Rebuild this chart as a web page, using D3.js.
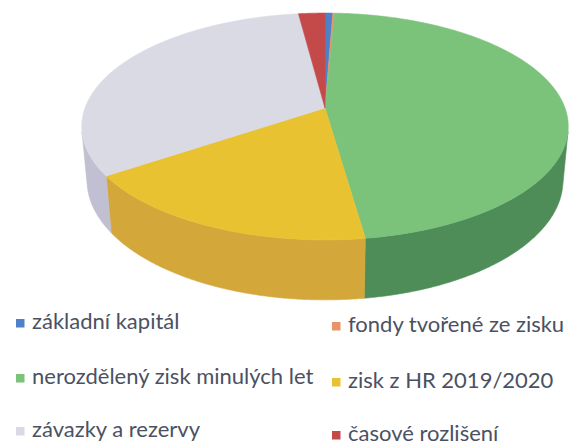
<!DOCTYPE html>
<html>
<head>
<meta charset="utf-8">
<script src="https://cdn.jsdelivr.net/npm/d3@7"></script>
<style>
  html, body { margin: 0; padding: 0; background: #fff; }
  text { font-family: Lato, "Open Sans", sans-serif; }
</style>
</head>
<body>
<div id="chart"></div>
<script>
const width = 570;
const height = 446;

// slices, clockwise from 12 o'clock (share in %)
const labels = [
  "základní kapitál",
  "fondy tvořené ze zisku",
  "nerozdělený zisk minulých let",
  "zisk z HR 2019/2020",
  "závazky a rezervy",
  "časové rozlišení"
];
const values = [0.6, 0.15, 47.0, 17.8, 32.4, 2.05];
const topColors = ["#4f81c9", "#e8946a", "#7bc27b", "#e9c232", "#dadae4", "#c44a4a"];
const sideColors = ["#3e68a8", "#c97a52", "#4f8d58", "#d3a73a", "#c0c0d2", "#a43c3c"];

// 3D projection of the pie
const cx = 325, cy = 108;
const S = 240;            // radius in px
const sinPhi = 0.46;      // tilt
const cosPhi = Math.sqrt(1 - sinPhi * sinPhi);
const D = 5.45;           // camera distance (perspective)
const thick = 0.255;      // pie thickness relative to radius

function proj(theta, z, r = 1) {
  const X = Math.sin(theta) * r;
  const Y = -Math.cos(theta) * r;
  const u = z * cosPhi - Y * sinPhi;
  const v = z * sinPhi + Y * cosPhi;
  const sc = D / (D - v);
  return [cx + S * X * sc, cy - S * u * sc];
}

const svg = d3.select("#chart").append("svg")
  .attr("width", width)
  .attr("height", height);

const pie = d3.pie().sort(null).value(d => d.value);
const arcs = pie(values.map((v, i) => ({ value: v, i: i })));

const line = d3.line();
const step = Math.PI / 360;

function arcPoints(a0, a1, z) {
  const pts = [];
  const n = Math.max(2, Math.ceil((a1 - a0) / step));
  for (let k = 0; k <= n; k++) pts.push(proj(a0 + (a1 - a0) * k / n, z));
  return pts;
}

// visible part of the outer wall
const wallA0 = Math.acos(-1 / (D * cosPhi));
const wallA1 = 2 * Math.PI - wallA0;

const walls = svg.append("g");
arcs.forEach(a => {
  const s = Math.max(a.startAngle, wallA0);
  const e = Math.min(a.endAngle, wallA1);
  if (e <= s) return;
  const pts = arcPoints(s, e, 0).concat(arcPoints(s, e, -thick).reverse());
  walls.append("path")
    .attr("d", line(pts) + "Z")
    .attr("fill", sideColors[a.data.i])
    .attr("stroke", sideColors[a.data.i])
    .attr("stroke-width", 0.6);
});

const tops = svg.append("g");
arcs.forEach(a => {
  const pts = [proj(0, 0, 0)].concat(arcPoints(a.startAngle, a.endAngle, 0));
  tops.append("path")
    .attr("d", line(pts) + "Z")
    .attr("fill", topColors[a.data.i])
    .attr("stroke", topColors[a.data.i])
    .attr("stroke-width", 0.6);
});

// legend: two columns, three rows
const legendCols = [16, 332];
const legendRows = [
  [323, 326],
  [378, 382],
  [431, 435]
];
const legend = svg.append("g");
labels.forEach((lab, i) => {
  const col = i % 2, row = Math.floor(i / 2);
  const x = legendCols[col];
  const y = legendRows[row][col];
  const g = legend.append("g").attr("transform", `translate(${x},${y})`);
  g.append("rect")
    .attr("x", 0).attr("y", -4)
    .attr("width", 8.5).attr("height", 8.5)
    .attr("fill", topColors[i]);
  g.append("text")
    .attr("x", 16)
    .attr("y", 5.5)
    .attr("font-size", 22)
    .attr("fill", "#4a5163")
    .text(lab);
});
</script>
</body>
</html>
